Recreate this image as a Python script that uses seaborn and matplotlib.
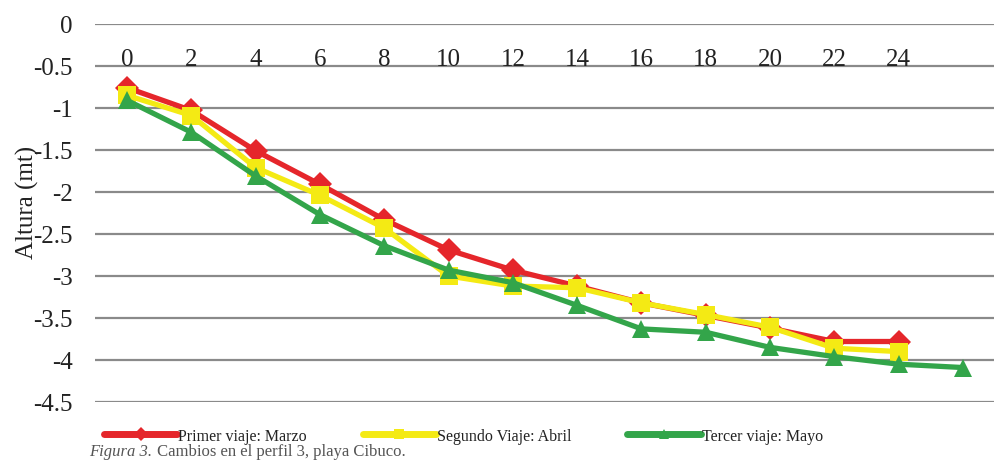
import numpy as np
import pandas as pd
import matplotlib
matplotlib.use("Agg")
import matplotlib.pyplot as plt
import seaborn as sns
from matplotlib.lines import Line2D

# ---- data ----
distance_labels = ["0", "2", "4", "6", "8", "10", "12", "14", "16", "18", "20", "22", "24", ""]
primer_marzo = [-0.76, -1.03, -1.51, -1.91, -2.33, -2.69, -2.93, -3.12, -3.32, -3.47, -3.62, -3.78, -3.78, np.nan]
segundo_abril = [-0.85, -1.09, -1.71, -2.04, -2.43, -3.0, -3.12, -3.14, -3.32, -3.46, -3.61, -3.86, -3.9, np.nan]
tercer_mayo = [-0.91, -1.29, -1.81, -2.27, -2.64, -2.93, -3.08, -3.35, -3.63, -3.67, -3.85, -3.96, -4.05, -4.09]
series_names = ["Primer viaje: Marzo", "Segundo Viaje: Abril", "Tercer viaje: Mayo"]
y_ticks = [0, -0.5, -1, -1.5, -2, -2.5, -3, -3.5, -4, -4.5]
y_label = "Altura (mt)"
caption_italic = "Figura 3."
caption_rest = " Cambios en el perfil 3, playa Cibuco."

colors = ["#E5262B", "#F4EA14", "#33A54A"]
markers = ["D", "s", "^"]

sns.set_theme(style="white")
plt.rcParams["font.family"] = ["Liberation Serif", "DejaVu Serif"]

rows = []
for name, vals in zip(series_names, [primer_marzo, segundo_abril, tercer_mayo]):
    for i, v in enumerate(vals):
        if not np.isnan(v):
            rows.append({"pos": i, "valor": v, "serie": name})
df = pd.DataFrame(rows)

fig = plt.figure(figsize=(9.95, 4.64), dpi=100)
ax = fig.add_axes([0.0955, 0.1315, 0.9045, 0.8147])

for ytk in y_ticks:
    ax.axhline(ytk, color="#8a8a8a", lw=1.6, zorder=0)

sns.lineplot(data=df, x="pos", y="valor", hue="serie", style="serie",
             hue_order=series_names, style_order=series_names,
             palette=dict(zip(series_names, colors)),
             markers=dict(zip(series_names, markers)), dashes=False,
             linewidth=3.8, markersize=12.5, markeredgewidth=0, ax=ax,
             legend=False, zorder=3)

ax.set_xlim(-0.5, len(distance_labels) - 0.5)
ax.set_ylim(-4.5, 0)
ax.set_yticks(y_ticks)
ax.set_yticklabels([f"{t:g}" for t in y_ticks])
ax.set_xticks(range(len(distance_labels)))
ax.set_xticklabels(distance_labels)
ax.xaxis.tick_top()
ax.tick_params(axis="x", length=0, pad=-33, labelsize=18, colors="#222222")
ax.tick_params(axis="y", length=0, pad=16, labelsize=18, colors="#222222")
for sp in ax.spines.values():
    sp.set_visible(False)
ax.set_xlabel("")
ax.set_ylabel(y_label, fontsize=18, color="#222222")
ax.yaxis.set_label_coords(-0.062, 0.53)
ax.grid(False)

handles = [Line2D([0], [0], color=c, lw=5, marker=m, markersize=7, markeredgewidth=0)
           for c, m in zip(colors, markers)]
fig.legend(handles, series_names, loc="center left", bbox_to_anchor=(0.09, 0.058),
           ncol=3, frameon=False, fontsize=11.5, handlelength=4.6, handletextpad=0.05,
           columnspacing=3.5, labelcolor="#222222")

t1 = fig.text(0.09, 0.026, caption_italic, fontsize=12, style="italic", color="#555555", va="center")
fig.canvas.draw()
bb = t1.get_window_extent()
fig.text(bb.x1 / fig.bbox.width, 0.026, caption_rest, fontsize=12, color="#555555", va="center")

fig.savefig("out.png", dpi=100)
